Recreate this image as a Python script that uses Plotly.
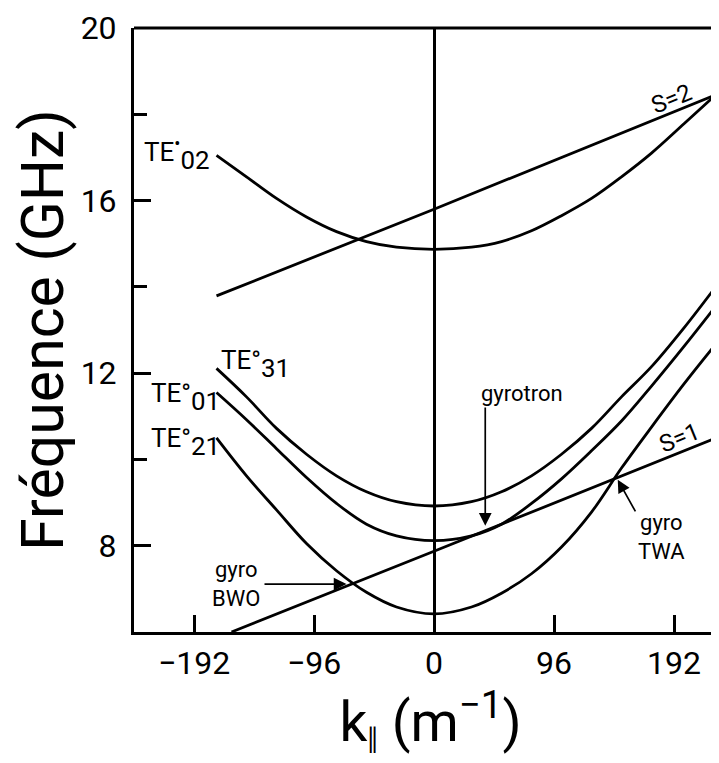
import plotly.graph_objects as go

# ---- data (k_parallel in m^-1, frequency in GHz) ----
k_grid = [-174, -150, -126, -102, -78, -54, -30, 0, 30, 54, 78, 102, 126, 150, 174, 200, 224.5]

f_te02 = [17.05, 16.55, 16.05, 15.62, 15.28, 15.05, 14.92, 14.87, 14.92, 15.05, 15.30,
          15.65, 16.05, 16.55, 17.10, 17.78, 18.43]
f_te31 = [12.11, 11.45, 10.72, 10.12, 9.62, 9.25, 9.02, 8.92, 9.02, 9.25, 9.62,
          10.12, 10.72, 11.45, 12.15, 13.05, 13.97]
f_te01 = [11.55, 10.92, 10.25, 9.58, 8.98, 8.50, 8.23, 8.12, 8.23, 8.50, 8.98,
          9.55, 10.20, 10.89, 11.70, 12.62, 13.52]
f_te21 = [10.50, 9.62, 8.83, 8.05, 7.42, 6.92, 6.58, 6.42, 6.58, 6.90, 7.35,
          7.97, 8.78, 9.80, 10.75, 11.75, 12.64]

k_s1 = [-162, 0, 226]
f_s1 = [6.0, 7.87, 10.5]

k_s2 = [-174, 0, 224.5]
f_s2 = [13.79, 15.80, 18.44]

x_ticks = [-192, -96, 0, 96, 192]
y_major = [8, 12, 16, 20]
y_minor = [10, 14, 18]

FONT = "Roboto"
LW = 2.8

fig = go.Figure()
for name, kx, fy, shape in [
    ("TE02", k_grid, f_te02, "spline"),
    ("TE31", k_grid, f_te31, "spline"),
    ("TE01", k_grid, f_te01, "spline"),
    ("TE21", k_grid, f_te21, "spline"),
    ("s=1", k_s1, f_s1, "linear"),
    ("s=2", k_s2, f_s2, "linear"),
]:
    fig.add_trace(go.Scatter(x=kx, y=fy, mode="lines", name=name,
                             line=dict(color="black", width=LW, shape=shape),
                             hoverinfo="skip", showlegend=False))

ann = []
def label(text, x, y, size, xanchor="left", angle=0, yshift=0):
    ann.append(dict(x=x, y=y, xref="x", yref="y", text=text, showarrow=False,
                    xanchor=xanchor, yanchor="middle", textangle=angle, yshift=yshift,
                    font=dict(family=FONT, size=size, color="black")))

SUB = '<span style="font-size:37px"><sub>%s</sub></span>'
label("TE<sup>•</sup>" + SUB % "02", -234, 17.07, 26)
label("TE°" + SUB % "31", -172, 12.22, 26)
label("TE°" + SUB % "01", -228, 11.45, 26)
label("TE°" + SUB % "21", -228, 10.41, 26)
label("S=1", 196, 10.50, 24, xanchor="center", angle=-22)
label("S=2", 190, 18.36, 24, xanchor="center", angle=-22)
label("gyrotron", 36, 11.52, 22)
label("gyro<br>TWA", 182, 8.2, 22, xanchor="center")
label("gyro<br>BWO", -158.4, 7.11, 22, xanchor="center")

def arrow(x, y, ax, ay):
    ann.append(dict(x=x, y=y, ax=ax, ay=ay, xref="x", yref="y", axref="x", ayref="y",
                    text="", showarrow=True, arrowhead=2, arrowsize=1.5,
                    arrowwidth=1.7, arrowcolor="black"))

arrow(41, 8.46, 41, 11.24)        # gyrotron
arrow(147, 9.53, 161.8, 8.76)     # gyro TWA
arrow(-70, 7.11, -136.8, 7.11)    # gyro BWO

fig.update_layout(
    width=719, height=763,
    margin=dict(l=126, r=0, t=20, b=139),
    paper_bgcolor="white", plot_bgcolor="white",
    font=dict(family=FONT, color="black"),
    annotations=ann,
    shapes=[dict(type="line", xref="paper", yref="paper", x0=0, x1=1, y0=1, y1=1,
                 line=dict(color="black", width=3))],
)
fig.update_xaxes(
    range=[-240, 234.4], tickvals=x_ticks, ticks="inside", ticklen=17, tickwidth=2.5,
    tickcolor="black", showline=True, linecolor="black", linewidth=3,
    showgrid=False, zeroline=True, zerolinecolor="black", zerolinewidth=2.8,
    tickfont=dict(family=FONT, size=32, color="black"), ticklabelstandoff=1,
    title=dict(text="k<sub>‖</sub> (m<sup>−1</sup>)", standoff=0,
               font=dict(family=FONT, size=55, color="black")),
    automargin=False, fixedrange=True,
)
fig.update_yaxes(
    range=[6, 20], tickvals=y_major, ticks="inside", ticklen=17, tickwidth=2.5,
    tickcolor="black", showline=True, linecolor="black", linewidth=3,
    minor=dict(tickvals=y_minor, ticks="inside", ticklen=13, tickwidth=2.5, tickcolor="black"),
    showgrid=False, zeroline=False,
    tickfont=dict(family=FONT, size=32, color="black"), ticklabelstandoff=8,
    title=dict(text="Fréquence (GHz)", standoff=2,
               font=dict(family=FONT, size=59, color="black")),
    automargin=False, fixedrange=True,
)

fig.write_html("out.html")
